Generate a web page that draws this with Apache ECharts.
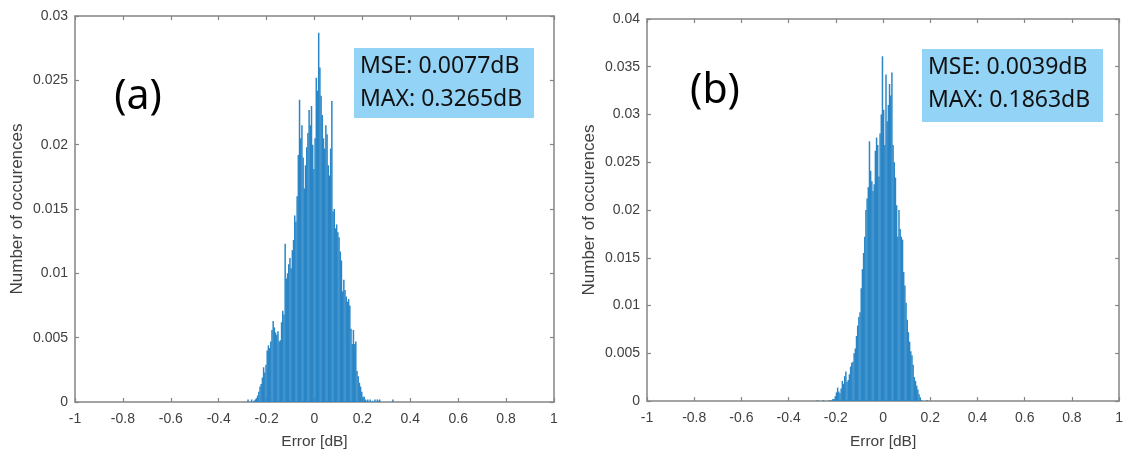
<!DOCTYPE html>
<html><head><meta charset="utf-8">
<script src="https://cdn.jsdelivr.net/npm/echarts@6/dist/echarts.min.js"></script>
<style>html,body{margin:0;padding:0;background:#fff}#c{width:1126px;height:455px}</style>
</head><body><div id="c"></div>
<script>
// Histogram bins: left edge of first bin and bin width (dB)
const binStart = -0.3;
const binWidth = 0.005;
// Panel (a) bar heights (probability), one per bin
const countsA = [
0,0,0,0,0.0002,0,0,0.0002,0,0.0001,
0.0002,0.0003,0.0005,0.0008,0.0012,0.0014,0.0019,0.0027,0.0023,0.0029,
0.0040,0.0044,0.0042,0.0047,0.0056,0.0063,0.0058,0.0054,0.0052,0.0055,
0.0047,0.0048,0.0062,0.0071,0.0068,0.0123,0.0096,0.0100,0.0107,0.0112,
0.0104,0.0118,0.0126,0.0145,0.0140,0.0160,0.0192,0.0235,0.0205,0.0215,
0.0190,0.0166,0.0184,0.0198,0.0209,0.0227,0.0215,0.0230,0.0200,0.0181,
0.0205,0.0252,0.0242,0.0287,0.0260,0.0238,0.0223,0.0205,0.0197,0.0215,
0.0208,0.0184,0.0176,0.0197,0.0234,0.0148,0.0150,0.0135,0.0138,0.0132,
0.0128,0.0117,0.0110,0.0086,0.0095,0.0087,0.0082,0.0078,0.0080,0.0075,
0.0057,0.0045,0.0056,0.0045,0.0047,0.0024,0.0020,0.0015,0.0012,0.0008,
0.0004,0.0004,0.0002,0.0001,0.0002,0,0.0002,0,0.0001,0,
0.0002,0,0.0002,0.0001,0.0002,0,0,0,0,0,
0,0,0,0,0,0.0002
];
// Panel (b) bar heights (probability), one per bin
const countsB = [
0,0,0,0,0.0001,0,0,0,0,0.0001,
0,0,0,0,0.0001,0,0.0001,0.0002,0.0002,0.0005,
0.0009,0.0014,0.0010,0.0008,0.0013,0.0021,0.0018,0.0026,0.0031,0.0020,
0.0022,0.0028,0.0036,0.0040,0.0041,0.0050,0.0055,0.0068,0.0079,0.0088,
0.0093,0.0118,0.0138,0.0155,0.0172,0.0200,0.0212,0.0224,0.0272,0.0241,
0.0230,0.0220,0.0227,0.0262,0.0276,0.0268,0.0235,0.0280,0.0300,0.0361,
0.0305,0.0268,0.0342,0.0293,0.0310,0.0332,0.0320,0.0344,0.0268,0.0250,
0.0234,0.0205,0.0172,0.0200,0.0180,0.0172,0.0169,0.0135,0.0121,0.0103,
0.0085,0.0072,0.0062,0.0052,0.0048,0.0038,0.0025,0.0021,0.0016,0.0012,
0.0007,0.0004,0.0001,0,0,0,0,0.0001,0,0
];
const xRange = [-1, 1], xStep = 0.2;
const yRangeA = [0, 0.03], yRangeB = [0, 0.04], yStep = 0.005;
const panelLabels = ['(a)', '(b)'];
const statsA = ['MSE: 0.0077dB', 'MAX: 0.3265dB'];
const statsB = ['MSE: 0.0039dB', 'MAX: 0.1863dB'];
const xName = 'Error [dB]';
const yName = 'Number of occurences';

function toPairs(counts) {
  return counts.map((v, i) => [binStart + binWidth * (i + 0.5), v]);
}

const axisColor = '#858585';
const labelColor = '#404040';
const sansFont = '"Liberation Sans", Arial, sans-serif';

function xAx(grid, bottom, gap) {
  return {
    type: 'value', gridIndex: grid, position: bottom ? 'bottom' : 'top',
    min: xRange[0], max: xRange[1], interval: xStep,
    name: bottom ? xName : '', nameLocation: 'middle', nameGap: gap,
    nameTextStyle: { color: labelColor, fontSize: 15.5, fontFamily: sansFont },
    axisLine: { show: true, onZero: false, lineStyle: { color: axisColor, width: 1.5 } },
    axisTick: { show: true, inside: true, length: 4, lineStyle: { color: axisColor, width: 1.2 } },
    axisLabel: { show: bottom, color: labelColor, fontSize: 14, fontFamily: sansFont, margin: 10 },
    splitLine: { show: false }
  };
}
function yAx(grid, left, range, gap) {
  return {
    type: 'value', gridIndex: grid, position: left ? 'left' : 'right',
    min: range[0], max: range[1], interval: yStep,
    name: left ? yName : '', nameLocation: 'middle', nameGap: gap, nameRotate: 90,
    nameTextStyle: { color: labelColor, fontSize: 17, fontFamily: sansFont },
    axisLine: { show: true, onZero: false, lineStyle: { color: axisColor, width: 1.5 } },
    axisTick: { show: true, inside: true, length: 4, lineStyle: { color: axisColor, width: 1.2 } },
    axisLabel: { show: left, color: labelColor, fontSize: 14, fontFamily: sansFont, margin: 7 },
    splitLine: { show: false }
  };
}

const barStyle = { color: '#2a86c6' };
const boxFill = '#93d3f6';
const calFont = '"Noto Sans", sans-serif';

function statBox(x, y, w, h, lines) {
  return [
    { type: 'rect', shape: { x: x, y: y, width: w, height: h }, style: { fill: boxFill } },
    { type: 'text', x: x + 6, y: y + 18, style: { text: lines[0], fontSize: 23, fontFamily: calFont, fill: '#111', verticalAlign: 'middle' } },
    { type: 'text', x: x + 6, y: y + 51, style: { text: lines[1], fontSize: 23, fontFamily: calFont, fill: '#111', verticalAlign: 'middle' } }
  ];
}

const chart = echarts.init(document.getElementById('c'), null, { renderer: 'canvas' });
chart.setOption({
  animation: false,
  backgroundColor: '#fff',
  grid: [
    { left: 75, top: 16, width: 479, height: 389 },
    { left: 647, top: 19, width: 477, height: 388 }
  ],
  xAxis: [xAx(0, true, 32), xAx(0, false, 0), xAx(1, true, 33), xAx(1, false, 0)],
  yAxis: [yAx(0, true, yRangeA, 49), yAx(0, false, yRangeA, 0), yAx(1, true, yRangeB, 49), yAx(1, false, yRangeB, 0)],
  series: [
    { type: 'bar', xAxisIndex: 0, yAxisIndex: 0, data: toPairs(countsA), barWidth: '125%', itemStyle: barStyle, silent: true },
    { type: 'bar', xAxisIndex: 2, yAxisIndex: 2, data: toPairs(countsB), barWidth: '125%', itemStyle: barStyle, silent: true }
  ],
  graphic: [
    ...statBox(354, 48, 180, 70, statsA),
    ...statBox(922, 49, 181, 73, statsB),
    { type: 'text', x: 138, y: 97, style: { text: panelLabels[0], fontSize: 41, fontFamily: calFont, fill: '#000', align: 'center', verticalAlign: 'middle' } },
    { type: 'text', x: 715, y: 91, style: { text: panelLabels[1], fontSize: 41, fontFamily: calFont, fill: '#000', align: 'center', verticalAlign: 'middle' } }
  ]
});
</script>
</body></html>
